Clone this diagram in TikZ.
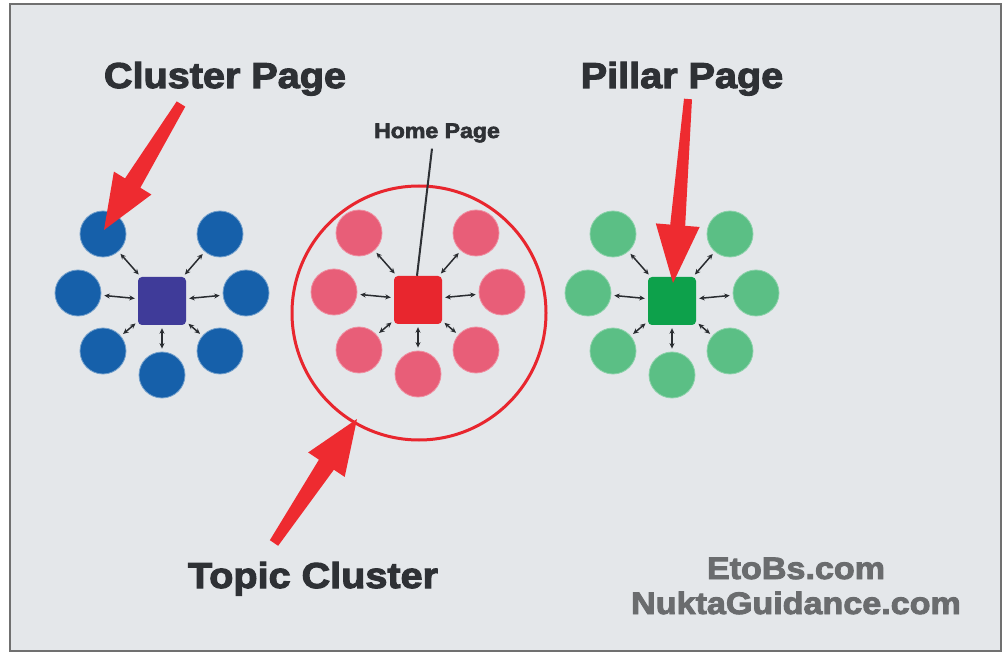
\documentclass[tikz,border=0pt]{standalone}
\usepackage{fontspec}
\usetikzlibrary{arrows.meta,calc}
\newfontfamily\heavy[BoldFeatures={FakeBold=3,FakeStretch=1.1}]{Liberation Sans}
\definecolor{bgc}{HTML}{E4E7EA}
\definecolor{framec}{HTML}{707070}
\definecolor{bluec}{HTML}{1660AA}
\definecolor{bluesq}{HTML}{3F3B99}
\definecolor{pinkc}{HTML}{E85E78}
\definecolor{redsq}{HTML}{E8262E}
\definecolor{greenc}{HTML}{5BBF85}
\definecolor{greensq}{HTML}{0DA14B}
\definecolor{arrowred}{HTML}{EE2B30}
\definecolor{txtdark}{HTML}{2E3135}
\definecolor{txtgray}{HTML}{6A6C6E}
\newcommand\fatarrow[6]{%
  \coordinate (fan) at ($(#2)!#6!(#1)$);
  \fill[arrowred] ($(#1)!#3!90:(#2)$) -- ($(fan)!#4!90:(#2)$) -- ($(fan)!#5!90:(#2)$) -- (#2)
    -- ($(fan)!#5!-90:(#2)$) -- ($(fan)!#4!-90:(#2)$) -- ($(#1)!#3!-90:(#2)$) -- cycle;}
\newcommand\clusterdraw[5]{%
  \node[#5] (#1c) at (#2,#3) {};
  \foreach \n/\dx/\dy in {tl/-59/-67, tr/58/-67, l/-84/-8, r/84/-8, bl/-59/50, br/58/50, b/0/74} {
    \node[#4] (#1\n) at ($(#2,#3)+(\dx,\dy)$) {};
    \draw[link] (#1c) -- (#1\n);
  }}
\begin{document}
\begin{tikzpicture}[x=1pt,y=-1pt,
  bubble/.style={circle,minimum size=46pt,inner sep=0pt,line width=0.8pt},
  hub/.style={rectangle,rounded corners=4pt,minimum size=48pt,inner sep=0pt},
  link/.style={{Stealth[length=5.5pt,width=5pt]}-{Stealth[length=5.5pt,width=5pt]},line width=1.5pt,txtdark!90!black,shorten <=3pt,shorten >=3pt},
  title/.style={font=\heavy\bfseries\fontsize{36}{40}\selectfont,text=txtdark,anchor=base,inner sep=0pt},
  smalltitle/.style={font=\heavy\bfseries\fontsize{21}{24}\selectfont,text=txtdark,anchor=base,inner sep=0pt},
  site/.style={font=\heavy\bfseries\fontsize{31}{34}\selectfont,text=txtgray,anchor=base,inner sep=0pt}]
\useasboundingbox (0,0) rectangle (1005,655);
\fill[white] (0,0) rectangle (1005,655);
\filldraw[fill=bgc,draw=framec,line width=2.2pt] (10,4) rectangle (1001,651);

\clusterdraw{b}{162}{301}{bubble,fill=bluec,draw=bluec!60!white}{hub,fill=bluesq}
\clusterdraw{p}{418}{300}{bubble,fill=pinkc,draw=pinkc!70!white}{hub,fill=redsq}
\clusterdraw{g}{672}{301}{bubble,fill=greenc,draw=greenc!70!white}{hub,fill=greensq}

\node[circle,draw=redsq,line width=3pt,minimum size=254pt,inner sep=0pt] (topic) at (419,313) {};

\node[title] (cp) at (225,88) {Cluster Page};
\node[title] (pp) at (682,88) {Pillar Page};
\node[title] (tc) at (313,588) {Topic Cluster};
\node[smalltitle] (hp) at (437,138) {Home Page};
\node[site] (s1) at (796,579) {EtoBs.com};
\node[site] (s2) at (796,614) {NuktaGuidance.com};

\draw[line width=2pt,txtdark] ([xshift=-5pt,yshift=-6pt]hp.south) -- ([xshift=-1pt]pc.north);

\coordinate (cpTail) at (181,104);
\coordinate (cpTip) at (104,230);
\coordinate (ppTail) at (688,99);
\coordinate (ppTip) at (673,283);
\coordinate (tcTail) at (274,543);
\coordinate (tcTip) at (357,419);
\fatarrow{cpTail}{cpTip}{5pt}{9pt}{22pt}{55pt}
\fatarrow{ppTail}{ppTip}{4pt}{7.5pt}{22pt}{58pt}
\fatarrow{tcTail}{tcTip}{5pt}{9pt}{22pt}{55pt}
\end{tikzpicture}
\end{document}
